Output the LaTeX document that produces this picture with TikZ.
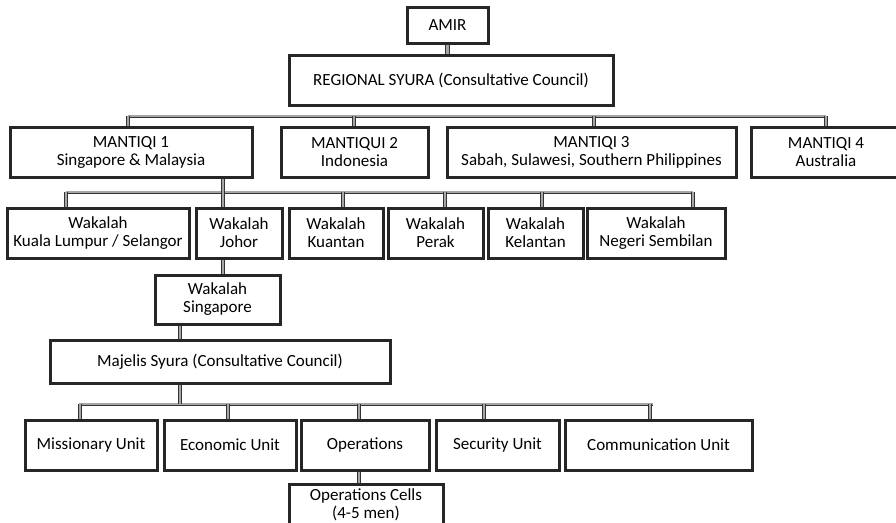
\documentclass[tikz,border=0pt]{standalone}
\usepackage{fontspec}
\setmainfont{Carlito}
\begin{document}
\begin{tikzpicture}[x=1pt,y=-1pt,
box/.style={draw=black!85,line width=3pt,fill=white,align=center,inner sep=0pt,minimum height=50pt,font=\fontsize{17}{18}\selectfont},
bar/.style={draw=black!80,line width=.9pt,double=black!35,double distance=1.2pt},
stub/.style={bar,double distance=2.6pt}]
\useasboundingbox(0,0)rectangle(896,522);
\node[box,minimum width=81pt,minimum height=36pt](amir)at(447.5,25){AMIR};
\node[box,minimum width=324pt](syura)at(451,80){REGIONAL SYURA (Consultative Council)};
\node[box,minimum width=242pt](m1)at(131,152){MANTIQI 1\\Singapore \& Malaysia};
\node[box,minimum width=147pt](m2)at(354.5,152){MANTIQUI 2\\Indonesia};
\node[box,minimum width=289pt](m3)at(591.5,152){MANTIQI 3\\Sabah, Sulawesi, Southern Philippines};
\node[box,minimum width=150pt](m4)at(826,152){MANTIQI 4\\Australia};
\node[box,minimum width=182pt](kl)at(98,233){Wakalah\\Kuala Lumpur / Selangor};
\node[box,minimum width=86pt](johor)at(239,233){Wakalah\\Johor};
\node[box,minimum width=94pt](kuantan)at(336,233){Wakalah\\Kuantan};
\node[box,minimum width=95pt](perak)at(435.5,233){Wakalah\\Perak};
\node[box,minimum width=95pt](kelantan)at(535.5,233){Wakalah\\Kelantan};
\node[box,minimum width=138pt](negeri)at(656,233){Wakalah\\Negeri Sembilan};
\node[box,minimum width=125pt,minimum height=49pt](sing)at(217.5,299.5){Wakalah\\Singapore};
\node[box,minimum width=340pt,minimum height=43pt](majelis)at(220,361.5){Majelis Syura (Consultative Council)};
\node[box,minimum width=132pt](miss)at(91,445){Missionary Unit};
\node[box,minimum width=132pt](econ)at(230,445){Economic Unit};
\node[box,minimum width=128pt](ops)at(365,445){Operations};
\node[box,minimum width=123pt](sec)at(497.5,445){Security Unit};
\node[box,minimum width=187pt](comm)at(658.5,445){Communication Unit};
\node[box,minimum width=154pt,minimum height=42pt](cells)at(366,505){Operations Cells\\(4-5 men)};
\draw[stub](amir.south)--(amir.south|-syura.north);
\coordinate(b1l)at(128,116);\coordinate(b1r)at(826,116);
\draw[bar](b1l)--(b1r);
\foreach\x/\n in{128/m1,354/m2,594/m3,826/m4}{\coordinate(t\n)at(\x,116);\draw[stub](t\n)--(t\n|-\n.north);}
\coordinate(b2l)at(66,192);\coordinate(b2r)at(693,192);
\draw[bar](b2l)--(b2r);
\coordinate(u1)at(223,192);
\draw[stub](u1|-m1.south)--(u1);
\foreach\x/\n in{66/kl,223/johor,343/kuantan,445/perak,542/kelantan,693/negeri}{\coordinate(t\n)at(\x,192);\draw[stub](t\n)--(t\n|-\n.north);}
\draw[stub](tjohor|-johor.south)--(tjohor|-sing.north);
\coordinate(u2)at(180,0);
\draw[stub](u2|-sing.south)--(u2|-majelis.north);
\coordinate(b3l)at(79,404);\coordinate(b3r)at(653,404);
\draw[bar](b3l)--(b3r);
\draw[stub](u2|-majelis.south)--(u2|-b3l);
\foreach\x/\n in{80/miss,228/econ,359/ops,484/sec,650/comm}{\coordinate(t\n)at(\x,404);\draw[stub](t\n)--(t\n|-\n.north);}
\draw[stub](tops|-ops.south)--(tops|-cells.north);
\end{tikzpicture}
\end{document}
